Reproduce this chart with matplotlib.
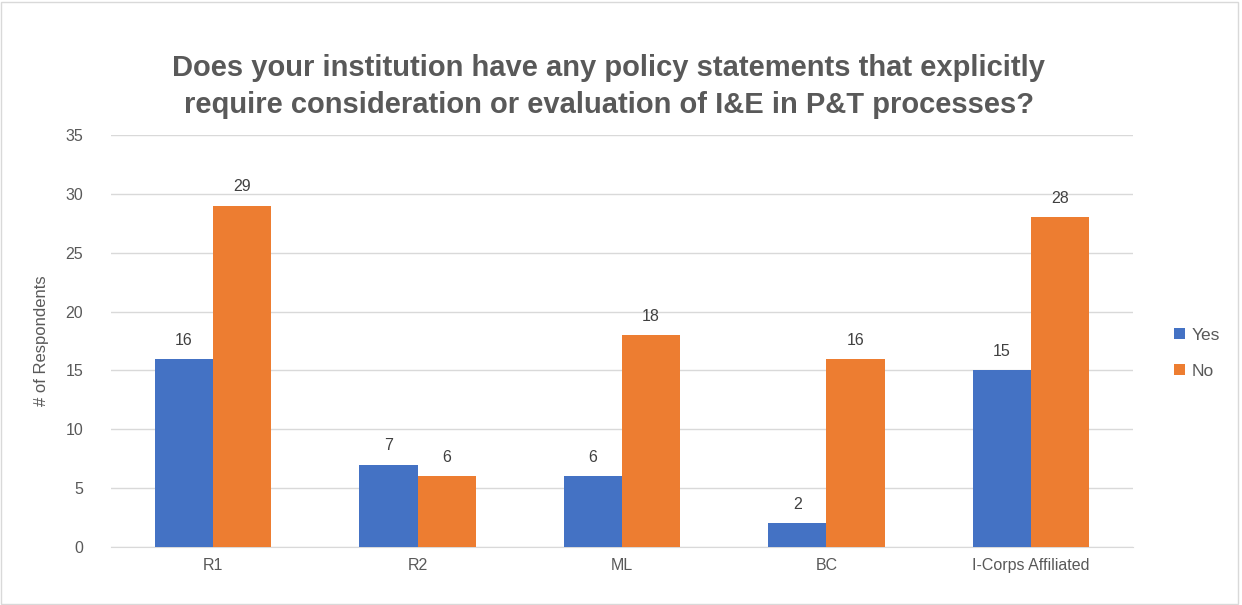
import numpy as np
import matplotlib.pyplot as plt
from matplotlib.patches import Rectangle

categories = ['R1', 'R2', 'ML', 'BC', 'I-Corps Affiliated']
yes_vals = [16, 7, 6, 2, 15]
no_vals = [29, 6, 18, 16, 28]

plt.rcParams['font.family'] = ['Liberation Sans', 'DejaVu Sans']

fig = plt.figure(figsize=(12.42, 6.05), dpi=100)
fig.patches.append(Rectangle((0.001, 0.002), 0.996, 0.995, transform=fig.transFigure,
                             fill=False, edgecolor='#d9d9d9', linewidth=1))
ax = fig.add_axes([0.0894, 0.0959, 0.8229, 0.681])

x = np.arange(len(categories))
w = 0.285
b1 = ax.bar(x - w / 2, yes_vals, w, color='#4472C4', label='Yes', zorder=3)
b2 = ax.bar(x + w / 2, no_vals, w, color='#ED7D31', label='No', zorder=3)

for bars in (b1, b2):
    for b in bars:
        ax.annotate(str(int(b.get_height())), (b.get_x() + b.get_width() / 2, b.get_height()),
                    xytext=(0, 8), textcoords='offset points', ha='center', va='bottom',
                    fontsize=11.5, color='#404040')

ax.set_xlim(-0.5, len(categories) - 0.5)
ax.set_ylim(0, 35)
ax.set_yticks(range(0, 36, 5))
ax.set_xticks(x)
ax.set_xticklabels(categories)
ax.tick_params(axis='both', length=0, labelsize=11.5, labelcolor='#595959')
ax.tick_params(axis='y', pad=20)
ax.tick_params(axis='x', pad=8)
ax.grid(axis='y', color='#d9d9d9', linewidth=1, zorder=0)
for s in ['top', 'right', 'left']:
    ax.spines[s].set_visible(False)
ax.spines['bottom'].set_color('#d9d9d9')

ax.set_ylabel('# of Respondents', fontsize=12, color='#595959', labelpad=12)

fig.text(0.490, 0.857, 'Does your institution have any policy statements that explicitly\n'
         'require consideration or evaluation of I&E in P&T processes?',
         ha='center', va='center', fontsize=21, fontweight='bold', color='#595959',
         linespacing=1.45)

ax.legend(loc='center left', bbox_to_anchor=(1.025, 0.47), frameon=False, fontsize=12.5,
          labelcolor='#595959', handlelength=0.6, handleheight=0.6, labelspacing=1.2,
          handletextpad=0.4)

fig.savefig('out.png', dpi=100)
